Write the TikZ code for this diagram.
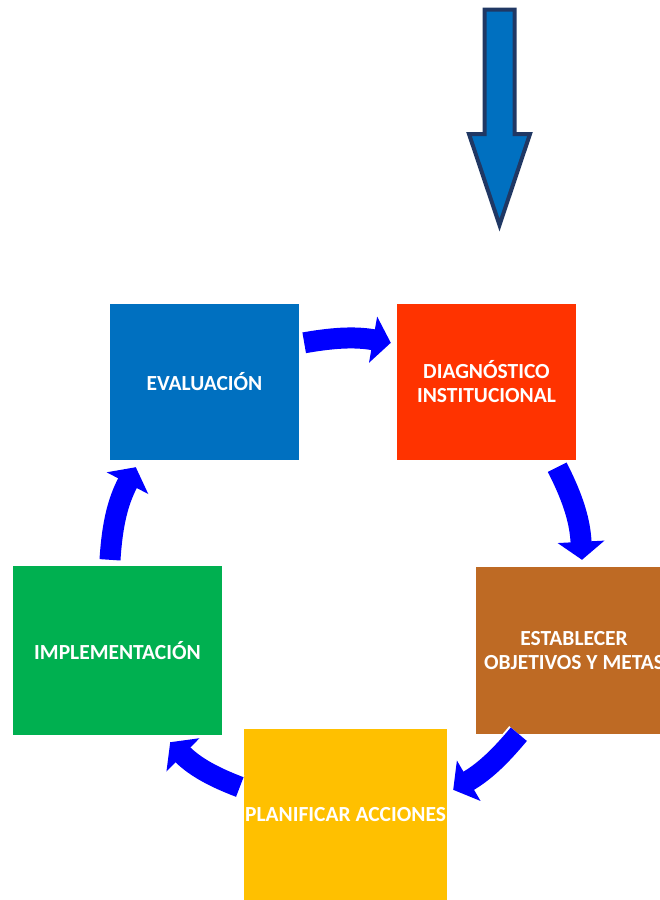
\documentclass[tikz,border=0pt]{standalone}
\usepackage{fontspec}
\setmainfont{Carlito}
\usetikzlibrary{arrows.meta}
\definecolor{evalblue}{RGB}{0,112,192}
\definecolor{diagred}{RGB}{255,51,0}
\definecolor{metabrown}{RGB}{190,106,36}
\definecolor{planyellow}{RGB}{255,192,0}
\definecolor{implgreen}{RGB}{0,176,80}
\definecolor{navyedge}{RGB}{32,56,100}
\definecolor{cycleblue}{RGB}{0,0,255}

\begin{document}
\begin{tikzpicture}[x=1pt,y=1pt]
\tikzstyle{every node}+=[inner sep=0pt]
\tikzstyle{stage}=[rectangle, text=white, align=center, font=\fontsize{21.5}{24}\selectfont\bfseries]
\tikzstyle{cyclearrow}=[draw=cycleblue, line width=21pt, -{Triangle[width=46pt,length=18pt]},
  preaction={draw=white, line width=25pt, -{Triangle[width=52pt,length=21pt]}}]
\useasboundingbox (0,0) rectangle (660,-900);
\clip (0,0) rectangle (660,-900);
\draw [line width=4pt, draw=navyedge, fill=evalblue, line join=miter] (484.5,-9.5) -- (514.5,-9.5) -- (514.5,-134) -- (530,-134) -- (499.5,-225) -- (469,-134) -- (484.5,-134) -- cycle;
\node [stage, fill=evalblue, minimum width=189pt, minimum height=156pt] (eval) at (204.5,-382) {EVALUACIÓN};
\node [stage, fill=diagred, minimum width=179pt, minimum height=156pt] (diag) at (486.5,-382) {DIAGNÓSTICO\\INSTITUCIONAL};
\node [stage, fill=metabrown, minimum width=196pt, minimum height=167pt] (meta) at (574,-650.5) {ESTABLECER\\OBJETIVOS Y METAS};
\node [stage, fill=planyellow, minimum width=203pt, minimum height=172pt] (plan) at (345.5,-815) {PLANIFICAR ACCIONES};
\node [stage, fill=implgreen, minimum width=209pt, minimum height=169pt] (impl) at (117.5,-650.5) {IMPLEMENTACIÓN};
\draw [cyclearrow] ([shift={(5,-39)}]eval.north east) to [bend left=10] ([shift={(-6,-39)}]diag.north west);
\draw [cyclearrow] ([shift={(-19,-7)}]diag.south east) to [bend left=12] ([shift={(8,7)}]meta.north);
\draw [cyclearrow] ([shift={(43,0)}]meta.south west) to [bend left=10] ([shift={(6,-61)}]plan.north east);
\draw [cyclearrow] ([shift={(-4,28)}]plan.west) to [bend left=12] ([shift={(-52,-7)}]impl.south east);
\draw [cyclearrow] ([shift={(-7.5,6)}]impl.north) to [bend left=12] ([shift={(26,-7)}]eval.south west);
\end{tikzpicture}
\end{document}
